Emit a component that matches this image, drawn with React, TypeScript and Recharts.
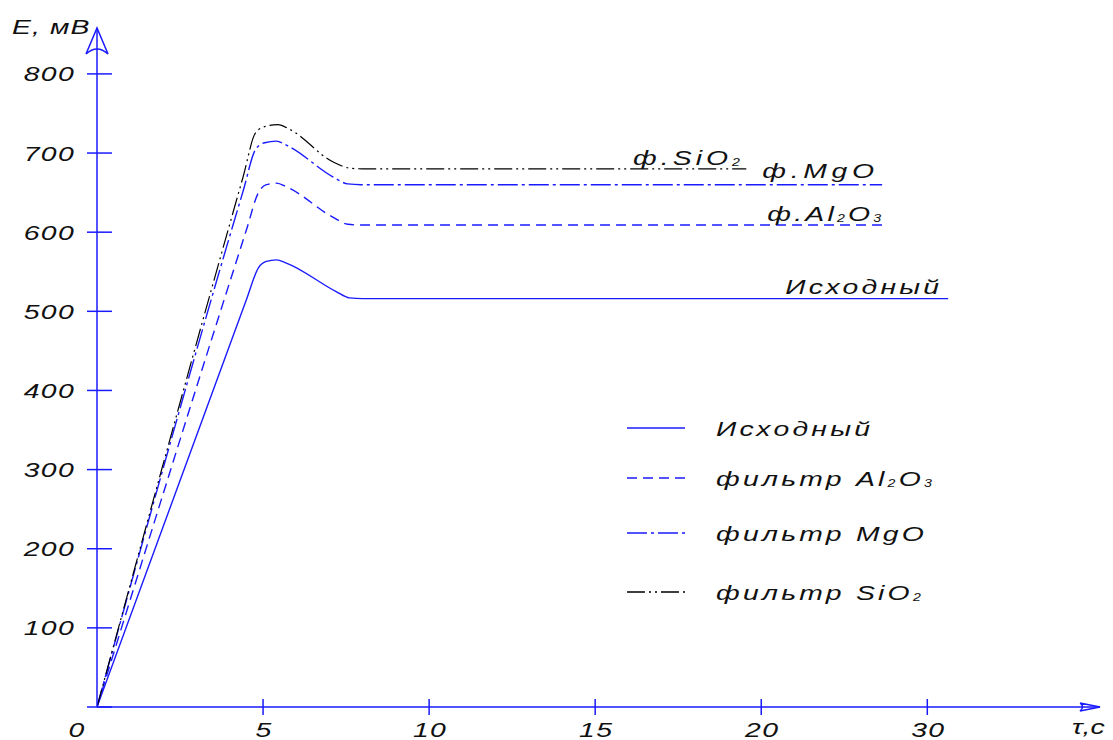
import React from 'react';
import { LineChart, Line, XAxis, YAxis, ReferenceDot, Legend } from 'recharts';

const BLUE = '#1a1aff';
const BLACK = '#000000';
const FONT = '"Liberation Sans", Arial, sans-serif';
const SX = 1.35;

const X_MAX = 30.2;
const Y_MAX = 858;

const xTicks = [0, 5, 10, 15, 20, 25];
const xTickLabels = ['0', '5', '10', '15', '20', '30'];
const yTicks = [0, 100, 200, 300, 400, 500, 600, 700, 800];

// Исходный
const baseT = [0, 4.5, 4.86, 5.1, 5.4, 5.7, 7.2, 7.6, 8.0, 25.63];
const baseE = [0, 515, 555, 563, 565, 561, 525, 517, 516, 516];
// фильтр Al2O3
const alT = [0, 4.5, 4.86, 5.1, 5.4, 5.72, 7.1, 7.55, 7.95, 23.64];
const alE = [0, 603, 650, 660, 662, 657, 619, 610, 609, 609];
// фильтр MgO
const mgT = [0, 4.4, 4.78, 5.05, 5.4, 5.75, 7.1, 7.55, 7.95, 23.64];
const mgE = [0, 652, 705, 713, 715, 709, 670, 661, 660, 660];
// фильтр SiO2
const siT = [0, 4.4, 4.78, 5.1, 5.45, 5.8, 7.1, 7.6, 8.0, 19.55];
const siE = [0, 670, 726, 734, 736, 730, 689, 681, 680, 680];

const toPoints = (t: number[], e: number[]) => t.map((v, i) => ({ t: v, e: e[i] }));

const baseData = toPoints(baseT, baseE);
const alData = toPoints(alT, alE);
const mgData = toPoints(mgT, mgE);
const siData = toPoints(siT, siE);

type Part = { s: string; sub?: boolean };

function SText({ x, y, anchor = 'start', parts, size = 21, ls = 2.4 }: { x: number; y: number; anchor?: string; parts: Part[]; size?: number; ls?: number }) {
  return (
    <g transform={`translate(${x},${y}) scale(${SX},1)`}>
      <text x={0} y={size * 0.36} textAnchor={anchor} fontFamily={FONT} fontStyle="italic" fontSize={size} fill="#111" letterSpacing={ls}>
        {parts.map((p, i) =>
          p.sub ? (
            <tspan key={i} fontSize={size * 0.5} dy={1}>{p.s}</tspan>
          ) : (
            <tspan key={i} fontSize={size} dy={i > 0 && parts[i - 1].sub ? -1 : 0}>{p.s}</tspan>
          )
        )}
      </text>
    </g>
  );
}

const XTick = (props: any) => {
  const { x, y, payload } = props;
  const i = xTicks.indexOf(payload.value);
  return (
    <g>
      {payload.value !== 0 && <line x1={x} x2={x} y1={y - 8} y2={y + 8} stroke={BLUE} strokeWidth={1.5} />}
      <SText x={x + (payload.value === 0 ? -20 : 1)} y={y + 22} anchor="middle" ls={1} parts={[{ s: xTickLabels[i] }]} />
    </g>
  );
};

const YTick = (props: any) => {
  const { x, y, payload } = props;
  return (
    <g>
      <line x1={x - 10} x2={x + 15} y1={y} y2={y} stroke={BLUE} strokeWidth={1.5} />
      {payload.value !== 0 && <SText x={x - 22} y={y} anchor="end" ls={1} parts={[{ s: String(payload.value) }]} />}
    </g>
  );
};

const legendItems = [
  { dash: undefined as string | undefined, color: BLUE, parts: [{ s: 'Исходный' }] as Part[] },
  { dash: '10 6', color: BLUE, parts: [{ s: 'фильтр Al' }, { s: '2', sub: true }, { s: 'O' }, { s: '3', sub: true }] as Part[] },
  { dash: '20 4 3 4', color: BLUE, parts: [{ s: 'фильтр MgO' }] as Part[] },
  { dash: '18 4 2 4 2 4', color: BLACK, parts: [{ s: 'фильтр SiO' }, { s: '2', sub: true }] as Part[] },
];
const legendRows = [23, 73, 128, 187];

const LegendContent = () => (
  <svg width={400} height={210}>
    {legendItems.map((it, i) => (
      <g key={i}>
        <line x1={17} x2={75} y1={legendRows[i]} y2={legendRows[i]} stroke={it.color} strokeWidth={1.3} strokeDasharray={it.dash} />
        <SText x={106} y={legendRows[i]} parts={it.parts} />
      </g>
    ))}
  </svg>
);

const makeLabel = (parts: Part[], dy: number, ls = 2.4) => (p: any) => <SText x={p.cx} y={p.cy + dy} ls={ls} parts={parts} />;

const YArrow = (p: any) => (
  <path d={`M${p.cx - 11},${p.cy + 26} L${p.cx},${p.cy} L${p.cx + 11},${p.cy + 26} Q${p.cx},${p.cy + 16} ${p.cx - 11},${p.cy + 26}`} fill="none" stroke={BLUE} strokeWidth={1.5} />
);
const XArrow = (p: any) => (
  <path d={`M${p.cx - 20},${p.cy - 4} L${p.cx},${p.cy} L${p.cx - 20},${p.cy + 4} Q${p.cx - 15},${p.cy} ${p.cx - 20},${p.cy - 4}`} fill="none" stroke={BLUE} strokeWidth={1.5} />
);

export default function App() {
  return (
    <div style={{ position: 'absolute', left: 0, top: 0, background: '#fff' }}>
      <LineChart width={1113} height={740} margin={{ top: 28, right: 13, left: 0, bottom: 0 }} style={{ fontFamily: FONT }}>
        <XAxis
          dataKey="t"
          type="number"
          domain={[0, X_MAX]}
          allowDataOverflow
          ticks={xTicks}
          height={33}
          tickSize={0}
          tickMargin={0}
          tickLine={false}
          axisLine={{ stroke: BLUE, strokeWidth: 1.5 }}
          tick={<XTick />}
          interval={0}
        />
        <YAxis
          type="number"
          domain={[0, Y_MAX]}
          allowDataOverflow
          ticks={yTicks}
          width={97}
          tickSize={0}
          tickMargin={0}
          tickLine={false}
          axisLine={{ stroke: BLUE, strokeWidth: 1.5 }}
          tick={<YTick />}
          interval={0}
        />
        <Line data={baseData} dataKey="e" type="monotone" stroke={BLUE} strokeWidth={1.4} dot={false} isAnimationActive={false} name="Исходный" />
        <Line data={alData} dataKey="e" type="monotone" stroke={BLUE} strokeWidth={1.4} strokeDasharray="10 6" dot={false} isAnimationActive={false} name="Al2O3" />
        <Line data={mgData} dataKey="e" type="monotone" stroke={BLUE} strokeWidth={1.4} strokeDasharray="20 4 3 4" dot={false} isAnimationActive={false} name="MgO" />
        <Line data={siData} dataKey="e" type="monotone" stroke={BLACK} strokeWidth={1.2} strokeDasharray="18 4 2 4 2 4" dot={false} isAnimationActive={false} name="SiO2" />

        <ReferenceDot x={16.14} y={680} r={0} ifOverflow="visible" shape={makeLabel([{ s: 'ф.SiO' }, { s: '2', sub: true }], -11, 3)} />
        <ReferenceDot x={20.03} y={660} r={0} ifOverflow="visible" shape={makeLabel([{ s: 'ф.MgO' }], -14, 3.5)} />
        <ReferenceDot x={20.18} y={609} r={0} ifOverflow="visible" shape={makeLabel([{ s: 'ф.Al' }, { s: '2', sub: true }, { s: 'O' }, { s: '3', sub: true }], -12)} />
        <ReferenceDot x={20.72} y={516} r={0} ifOverflow="visible" shape={makeLabel([{ s: 'Исходный' }], -12)} />

        <ReferenceDot x={0} y={Y_MAX} r={0} ifOverflow="visible" shape={YArrow} />
        <ReferenceDot x={X_MAX} y={0} r={0} ifOverflow="visible" shape={XArrow} />
        <ReferenceDot x={0} y={Y_MAX} r={0} ifOverflow="visible" shape={(p: any) => <SText x={p.cx - 85} y={p.cy - 2} ls={0.8} parts={[{ s: 'E, мВ' }]} />} />
        <ReferenceDot x={X_MAX} y={0} r={0} ifOverflow="visible" shape={(p: any) => <SText x={p.cx - 28} y={p.cy + 19} ls={0} parts={[{ s: 'τ,с' }]} />} />

        <Legend
          layout="horizontal"
          verticalAlign="middle"
          align="center"
          wrapperStyle={{ left: 610, top: 405, width: 400, height: 210 }}
          content={<LegendContent />}
        />
      </LineChart>
    </div>
  );
}
